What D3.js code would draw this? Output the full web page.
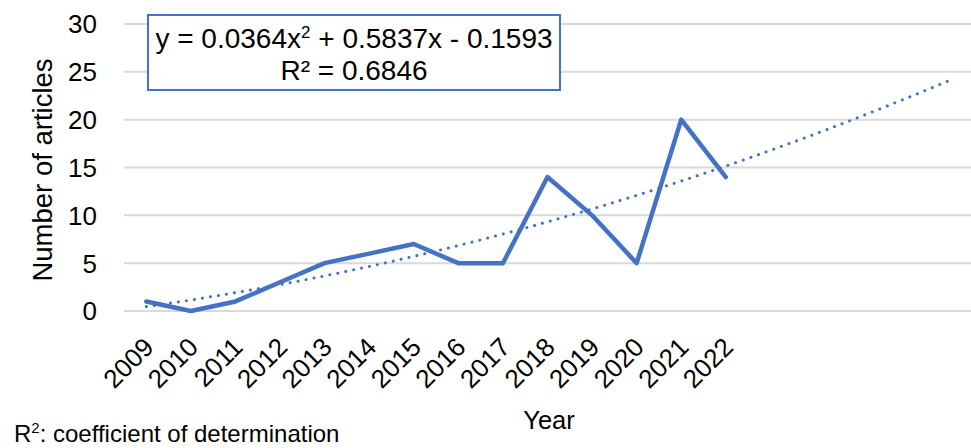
<!DOCTYPE html>
<html>
<head>
  <script src="https://d3js.org/d3.v7.min.js"></script>
  <style>
    body { margin: 0; background: #fff; font-family: 'Liberation Sans', Arial, sans-serif; }
    .grid line { stroke: #d9d9d9; stroke-width: 2px; }
  </style>
</head>
<body>
  <div id="chart"></div>
  <script>
    // data
    const years = ["2009", "2010", "2011", "2012", "2013", "2014", "2015",
                   "2016", "2017", "2018", "2019", "2020", "2021", "2022"];
    const articles = [1, 0, 1, 3, 5, 6, 7, 5, 5, 14, 10, 5, 20, 14];
    const yTicks = [0, 5, 10, 15, 20, 25, 30];
    // polynomial trend (order 2), forecast 5 periods forward
    const trendCoef = [0.0364, 0.5837, -0.1593];
    const forecast = 5;

    const width = 971, height = 448;
    const margin = { top: 24, right: 0, bottom: 137, left: 124 };

    const svg = d3.select("#chart").append("svg")
      .attr("width", width)
      .attr("height", height);

    const nSlots = years.length + forecast;
    const slots = d3.range(1, nSlots + 1);

    const x = d3.scaleBand()
      .domain(slots)
      .range([margin.left, width - margin.right]);

    const y = d3.scaleLinear()
      .domain([0, 30])
      .range([height - margin.bottom, margin.top]);

    const cx = i => x(i) + x.bandwidth() / 2;

    // gridlines
    svg.append("g").attr("class", "grid")
      .selectAll("line")
      .data(yTicks)
      .enter().append("line")
      .attr("x1", margin.left)
      .attr("x2", width - margin.right)
      .attr("y1", d => y(d))
      .attr("y2", d => y(d));

    // y tick labels
    svg.append("g")
      .selectAll("text")
      .data(yTicks)
      .enter().append("text")
      .attr("x", 97)
      .attr("y", d => y(d))
      .attr("dy", "0.36em")
      .attr("text-anchor", "end")
      .style("font-size", "26px")
      .text(d => d);

    // x tick labels
    svg.append("g")
      .selectAll("text")
      .data(years)
      .enter().append("text")
      .attr("transform", (d, i) => `translate(${cx(i + 1) - 4},${y(0) + 25}) rotate(-45)`)
      .attr("text-anchor", "end")
      .attr("dy", "0.7em")
      .style("font-size", "26px")
      .text(d => d);

    // trendline
    const trend = d3.range(1, nSlots, 0.1).concat([nSlots]);
    const trendLine = d3.line()
      .x(t => cx(1) + (t - 1) * x.step())
      .y(t => y(trendCoef[0] * t * t + trendCoef[1] * t + trendCoef[2]));

    svg.append("path")
      .datum(trend)
      .attr("d", trendLine)
      .attr("fill", "none")
      .attr("stroke", "#4472C4")
      .attr("stroke-width", 3)
      .attr("stroke-linecap", "round")
      .attr("stroke-dasharray", "0.1 8");

    // data line
    const line = d3.line()
      .x((d, i) => cx(i + 1))
      .y(d => y(d));

    svg.append("path")
      .datum(articles)
      .attr("d", line)
      .attr("fill", "none")
      .attr("stroke", "#4472C4")
      .attr("stroke-width", 4.5)
      .attr("stroke-linejoin", "round")
      .attr("stroke-linecap", "round");

    // equation box
    svg.append("rect")
      .attr("x", 148)
      .attr("y", 15)
      .attr("width", 412)
      .attr("height", 75)
      .attr("fill", "#fff")
      .attr("stroke", "#4472C4")
      .attr("stroke-width", 2);

    const eq = svg.append("text")
      .attr("x", 354)
      .attr("y", 48)
      .attr("text-anchor", "middle")
      .style("font-size", "28px");
    eq.append("tspan").text("y = 0.0364x");
    eq.append("tspan").attr("dy", -10).style("font-size", "17px").text("2");
    eq.append("tspan").attr("dy", 10).text(" + 0.5837x - 0.1593");

    svg.append("text")
      .attr("x", 354)
      .attr("y", 80)
      .attr("text-anchor", "middle")
      .style("font-size", "28px")
      .text("R² = 0.6846");

    // axis titles
    svg.append("text")
      .attr("transform", `translate(52,170) rotate(-90)`)
      .attr("text-anchor", "middle")
      .style("font-size", "27.5px")
      .text("Number of articles");

    svg.append("text")
      .attr("x", 549)
      .attr("y", 429)
      .attr("text-anchor", "middle")
      .style("font-size", "25.5px")
      .text("Year");

    const note = svg.append("text")
      .attr("x", 14)
      .attr("y", 442)
      .style("font-size", "24px");
    note.append("tspan").text("R");
    note.append("tspan").attr("dy", -9).style("font-size", "15px").text("2");
    note.append("tspan").attr("dy", 9).text(": coefficient of determination");
  </script>
</body>
</html>
